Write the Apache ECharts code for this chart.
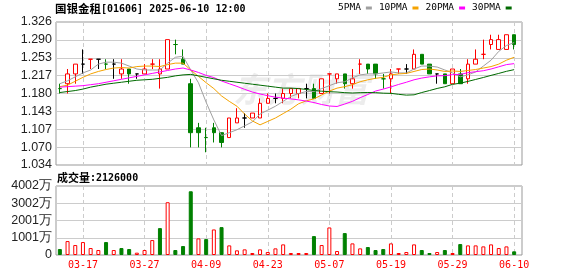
<!DOCTYPE html>
<html><head><meta charset="utf-8">
<script src="https://cdn.jsdelivr.net/npm/echarts@6/dist/echarts.min.js"></script>
<style>html,body{margin:0;padding:0;background:#fff;}#c{width:578px;height:276px;}</style>
</head><body><div id="c"></div>
<script>
// ---------------- data ----------------
const dates = ['03-12','03-13','03-14','03-17','03-18','03-19','03-20','03-21','03-24','03-25','03-26','03-27','03-28','03-31',
  '04-01','04-02','04-03','04-07','04-08','04-09','04-10','04-11','04-14','04-15','04-16','04-17','04-22','04-23','04-24','04-25',
  '04-28','04-29','04-30','05-02','05-06','05-07','05-08','05-09','05-12','05-13','05-14','05-15','05-16','05-19','05-20','05-21',
  '05-22','05-23','05-26','05-27','05-28','05-29','05-30','06-02','06-03','06-04','06-05','06-06','06-09','06-10'];
const openPrices  = [1.19,1.20,1.22,1.24,1.25,1.25,1.24,1.24,1.22,1.23,1.22,1.22,1.24,1.22,1.23,1.28,1.25,1.20,1.11,1.09,
  1.11,1.10,1.09,1.12,1.13,1.13,1.13,1.16,1.17,1.17,1.18,1.18,1.19,1.19,1.18,1.22,1.21,1.22,1.20,1.24,
  1.24,1.24,1.21,1.21,1.23,1.23,1.23,1.26,1.24,1.22,1.22,1.20,1.22,1.21,1.24,1.26,1.28,1.27,1.27,1.30];
const closePrices = [1.19,1.22,1.24,1.24,1.25,1.25,1.24,1.24,1.23,1.22,1.22,1.23,1.24,1.23,1.29,1.28,1.24,1.10,1.10,1.09,
  1.10,1.08,1.13,1.13,1.13,1.14,1.16,1.17,1.17,1.18,1.19,1.19,1.19,1.17,1.21,1.22,1.22,1.20,1.21,1.24,
  1.23,1.22,1.21,1.22,1.23,1.23,1.26,1.24,1.22,1.22,1.20,1.23,1.20,1.24,1.25,1.26,1.29,1.29,1.30,1.28];
const lowPrices   = [1.18,1.18,1.20,1.22,1.23,1.23,1.23,1.21,1.21,1.20,1.21,1.22,1.23,1.19,1.23,1.26,1.24,1.07,1.07,1.06,
  1.08,1.07,1.09,1.12,1.11,1.13,1.13,1.16,1.16,1.16,1.17,1.17,1.17,1.17,1.18,1.18,1.20,1.19,1.19,1.22,
  1.22,1.21,1.19,1.18,1.22,1.22,1.23,1.24,1.22,1.20,1.20,1.20,1.20,1.20,1.24,1.25,1.27,1.27,1.27,1.27];
const highPrices  = [1.20,1.23,1.24,1.27,1.25,1.25,1.25,1.25,1.25,1.23,1.22,1.24,1.25,1.25,1.29,1.29,1.27,1.21,1.12,1.11,
  1.12,1.10,1.13,1.15,1.14,1.14,1.17,1.18,1.18,1.19,1.19,1.19,1.20,1.20,1.21,1.22,1.22,1.22,1.23,1.25,
  1.24,1.24,1.22,1.23,1.23,1.24,1.27,1.26,1.24,1.22,1.22,1.23,1.23,1.25,1.27,1.29,1.30,1.30,1.30,1.30];
const priorClose = 1.22; // close of the session before the first one shown (estimated)
const volumes = [3460000,8080000,5780000,7510000,4040000,2890000,7510000,2890000,4040000,3460000,
  1350000,2890000,8660000,15590000,30610000,2890000,5200000,36960000,9630000,9240000,
  14820000,16170000,5580000,2700000,3270000,1160000,3270000,1730000,3850000,6160000,
  1160000,1160000,1160000,10970000,5780000,15980000,2310000,12710000,6740000,3850000,
  4620000,2890000,3460000,6740000,1160000,1730000,6160000,2890000,1160000,1730000,
  2890000,1160000,6350000,5580000,5580000,5000000,6160000,4040000,5000000,2126000];
const ma5 = [1.200,1.206,1.214,1.222,1.228,1.240,1.244,1.244,1.242,1.236,
  1.230,1.228,1.228,1.228,1.242,1.254,1.256,1.228,1.202,1.162,
  1.126,1.094,1.100,1.106,1.114,1.122,1.138,1.146,1.154,1.164,
  1.174,1.180,1.184,1.184,1.190,1.196,1.202,1.204,1.212,1.218,
  1.220,1.220,1.222,1.224,1.222,1.222,1.230,1.236,1.236,1.234,
  1.228,1.222,1.214,1.218,1.224,1.236,1.248,1.266,1.278,1.284];
const ma10 = [1.194,1.197,1.205,1.213,1.220,1.225,1.229,1.232,1.233,1.232,
  1.235,1.236,1.236,1.235,1.239,1.242,1.242,1.228,1.215,1.202,
  1.190,1.175,1.164,1.154,1.138,1.124,1.116,1.123,1.130,1.139,
  1.148,1.159,1.165,1.169,1.177,1.185,1.191,1.194,1.198,1.204,
  1.208,1.211,1.213,1.218,1.220,1.221,1.225,1.229,1.230,1.228,
  1.225,1.226,1.225,1.227,1.229,1.232,1.235,1.240,1.248,1.254];
const ma20 = [1.193,1.194,1.195,1.196,1.198,1.200,1.203,1.206,1.209,1.212,
  1.215,1.218,1.221,1.224,1.227,1.230,1.232,1.228,1.223,1.217,
  1.2125,1.2055,1.200,1.1945,1.1885,1.183,1.179,1.1755,1.1725,1.1705,
  1.169,1.167,1.1645,1.1615,1.1575,1.1545,1.1535,1.1585,1.164,1.1715,
  1.178,1.185,1.189,1.1935,1.1985,1.203,1.208,1.2115,1.214,1.216,
  1.2165,1.2185,1.219,1.2225,1.2245,1.2265,1.230,1.2345,1.239,1.241];
const ma30 = [1.182,1.184,1.186,1.189,1.193,1.196,1.199,1.201,1.203,1.205,
  1.207,1.208,1.209,1.211,1.213,1.216,1.218,1.219,1.216,1.213,
  1.210,1.207,1.205,1.203,1.201,1.199,1.197,1.195,1.193,1.191,
  1.191,1.190,1.1883,1.186,1.1847,1.1837,1.183,1.1817,1.181,1.1817,
  1.182,1.1817,1.1807,1.1803,1.1783,1.1767,1.1773,1.182,1.186,1.1903,
  1.1937,1.1987,1.201,1.2047,1.2087,1.2127,1.217,1.221,1.2253,1.2287];
const priceTickLabels = ['1.034','1.070','1.107','1.143','1.180','1.217','1.253','1.290','1.326'];
const volumeTickLabels = ['0','1001万','2001万','3002万','4002万'];
const xTickLabels = ['03-17','03-27','04-09','04-23','05-07','05-19','05-29','06-10'];
const priceMin = 1.034, priceMax = 1.326, volumeMax = 40020000;
const stockName = '国银金租', stockCode = '[01606]', stamp = '2025-06-10 12:00';
const maNames = ['5PMA','10PMA','20PMA','30PMA'];

// ---------------- style ----------------
const UP = '#ff0000', DOWN = '#008000', FLAT = '#000000';
const MA_COLORS = ['#a0a0a0','#f5a300','#ff00ff','#006a00'];
const MONO = '"DejaVu Sans Mono","Liberation Mono",monospace';
const CJK = '"Noto Sans CJK SC",sans-serif';
const LBL = '"Liberation Sans",Arial,sans-serif';
const L = 56, W_DATA = 462, W_FRAME = 466;
const P_TOP = 22, P_H = 143, V_TOP = 186, V_H = 69;

const prevClose = i => i === 0 ? priorClose : closePrices[i - 1];
const candleData = dates.map((d, i) => {
  const v = [openPrices[i], closePrices[i], lowPrices[i], highPrices[i]];
  if (openPrices[i] !== closePrices[i]) return v;
  const p = prevClose(i);
  const c = closePrices[i] > p ? UP : closePrices[i] < p ? DOWN : FLAT;
  return {value: v, itemStyle: {color: c, color0: c, borderColor: c, borderColor0: c, borderColorDoji: c}};
});
const volumeData = volumes.map((v, i) => {
  const up = closePrices[i] >= prevClose(i);
  return {value: v, itemStyle: up ? {color: '#ffffff', borderColor: UP, borderWidth: 1}
                                   : {color: DOWN, borderColor: DOWN, borderWidth: 1}};
});
const showTick = (idx, val) => xTickLabels.indexOf(val) >= 0;
const dashed = {show: true, interval: showTick, alignWithLabel: true, lineStyle: {color: '#cccccc', type: [4, 3], width: 1}};

const chart = echarts.init(document.getElementById('c'), null, {renderer: 'canvas'});
chart.setOption({
  animation: false,
  backgroundColor: '#ffffff',
  title: [
    {left: 55, top: 1, padding: 0, text: '{cn|' + stockName + '}{en|' + stockCode + ' ' + stamp + '}',
     textStyle: {rich: {cn: {fontFamily: CJK, fontSize: 11.5, color: '#000', lineHeight: 16},
                        en: {fontFamily: MONO, fontSize: 10, color: '#000', lineHeight: 16}}}},
    {left: 57, top: 170, padding: 0, text: '{cn|成交量}{en|:' + volumes[volumes.length - 1] + '}',
     textStyle: {rich: {cn: {fontFamily: CJK, fontSize: 11, color: '#000', lineHeight: 16},
                        en: {fontFamily: MONO, fontSize: 10, color: '#000', lineHeight: 16}}}}
  ],
  legend: {
    data: maNames, left: 338, top: 3, padding: 0, align: 'right', icon: 'rect',
    itemWidth: 6, itemHeight: 3, itemGap: 7,
    textStyle: {fontFamily: MONO, fontSize: 9.5, color: '#000'}
  },
  graphic: [{type: 'text', left: 233, top: 72, z: -10, silent: true,
    style: {text: '东方财富', font: 'italic bold 34px "Noto Sans CJK SC"', fill: '#ececec'}}],
  grid: [
    {left: L, top: P_TOP, width: W_DATA, height: P_H},
    {left: L, top: P_TOP, width: W_FRAME, height: P_H, show: true, borderColor: '#999', borderWidth: 1, backgroundColor: 'transparent'},
    {left: L, top: V_TOP, width: W_DATA, height: V_H},
    {left: L, top: V_TOP, width: W_FRAME, height: V_H, show: true, borderColor: '#999', borderWidth: 1, backgroundColor: 'transparent'}
  ],
  xAxis: [
    {type: 'category', gridIndex: 0, data: dates, boundaryGap: true, axisLine: {show: false}, axisTick: {show: false},
     axisLabel: {show: false}, splitLine: dashed},
    {type: 'value', gridIndex: 1, min: 0, max: 1, show: false},
    {type: 'category', gridIndex: 2, data: dates, boundaryGap: true, axisLine: {show: false}, axisTick: {show: false},
     axisLabel: {show: true, interval: showTick, color: UP, fontFamily: MONO, fontSize: 10, margin: 5},
     splitLine: dashed},
    {type: 'value', gridIndex: 3, min: 0, max: 1, show: false}
  ],
  yAxis: [
    {type: 'value', gridIndex: 0, min: priceMin, max: priceMax, show: false},
    {type: 'value', gridIndex: 1, min: 0, max: priceTickLabels.length - 1, interval: 1,
     axisLine: {show: false}, axisTick: {show: false},
     axisLabel: {formatter: v => priceTickLabels[Math.round(v)], fontFamily: LBL, fontSize: 12.5, color: '#222', margin: 4},
     splitLine: {show: true, lineStyle: {color: '#cccccc', width: 1}}},
    {type: 'value', gridIndex: 2, min: 0, max: volumeMax, show: false},
    {type: 'value', gridIndex: 3, min: 0, max: volumeTickLabels.length - 1, interval: 1,
     axisLine: {show: false}, axisTick: {show: false},
     axisLabel: {formatter: v => volumeTickLabels[Math.round(v)], fontFamily: LBL, fontSize: 12.5, color: '#222', margin: 4},
     splitLine: {show: true, lineStyle: {color: '#cccccc', width: 1}}}
  ],
  series: [
    {type: 'candlestick', xAxisIndex: 0, yAxisIndex: 0, data: candleData, barWidth: 4,
     itemStyle: {color: '#ffffff', color0: DOWN, borderColor: UP, borderColor0: DOWN, borderWidth: 1}},
    ...[ma5, ma10, ma20, ma30].map((arr, k) => ({
      name: maNames[k], type: 'line', xAxisIndex: 0, yAxisIndex: 0, data: arr, symbol: 'none', smooth: false,
      itemStyle: {color: MA_COLORS[k]}, lineStyle: {color: MA_COLORS[k], width: 1}, z: 3
    })),
    {type: 'bar', xAxisIndex: 2, yAxisIndex: 2, data: volumeData, barWidth: 4}
  ]
});
</script></body></html>
